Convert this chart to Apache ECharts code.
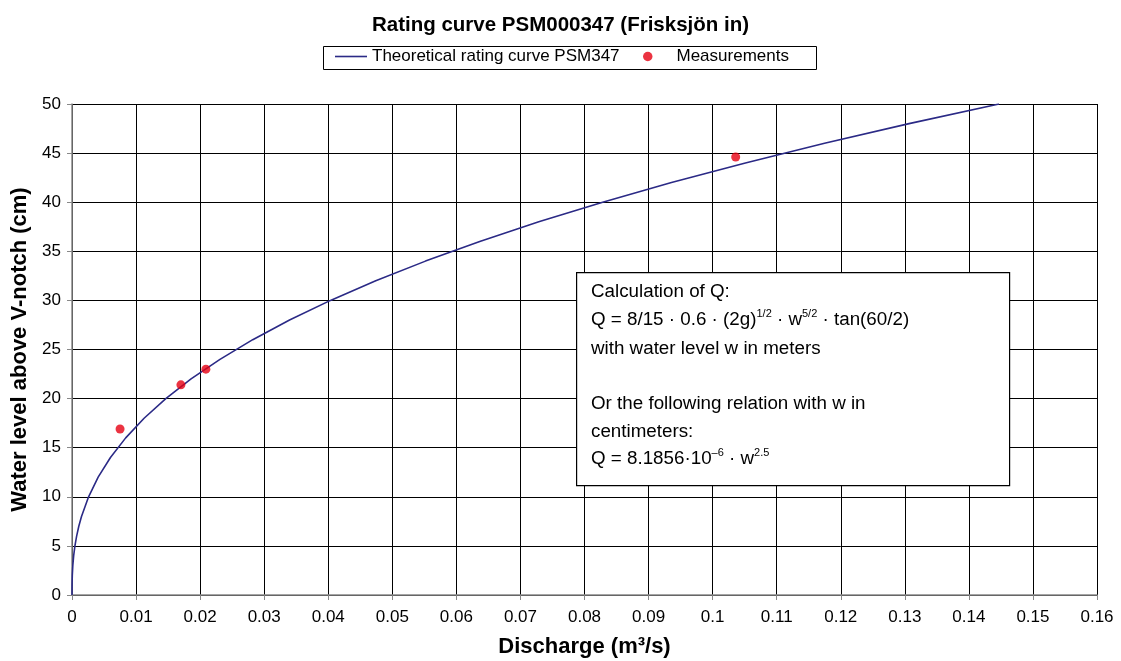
<!DOCTYPE html>
<html>
<head>
<meta charset="utf-8">
<script src="https://cdn.jsdelivr.net/npm/echarts@6/dist/echarts.min.js"></script>
<style>
html,body{margin:0;padding:0;background:#fff;}
#chart{width:1121px;height:661px;}
</style>
</head>
<body>
<div id="chart"></div>
<script>
// Theoretical rating curve: water level (cm) and discharge (m3/s)
const curveLevel = [0, 0.5, 1, 2, 3, 4, 5, 6, 7, 8, 10, 12, 14, 16, 18, 20, 22, 24, 26, 28, 30, 32, 34, 36, 38, 40, 42, 44, 46, 48, 50];
const curveQ = [0, 0.0000015, 0.0000082, 0.000046, 0.000128, 0.000262, 0.000458, 0.000722, 0.001061, 0.001482, 0.002589, 0.004083, 0.006003, 0.008382, 0.011252, 0.014643, 0.018583, 0.023098, 0.028215, 0.033958, 0.040351, 0.047415, 0.055176, 0.063651, 0.072864, 0.082833, 0.093577, 0.105117, 0.117475, 0.130666, 0.144703];
// Measurements
const measQ = [0.0075, 0.0170, 0.0209, 0.1036];
const measLevel = [16.9, 21.4, 23.0, 44.6];
// Axes
const xMin = 0, xMax = 0.16, xStep = 0.01;
const yMin = 0, yMax = 50, yStep = 5;

const FONT = "'Liberation Sans', Arial, sans-serif";
const chart = echarts.init(document.getElementById('chart'), null, {renderer: 'canvas'});

const curveData = curveLevel.map((w, i) => [curveQ[i], w]);
const measData = measLevel.map((w, i) => [measQ[i], w]);

const line = (y, parts) => ({
  type: 'text', left: 591, top: y - 12, z: 101,
  style: {
    rich: {
      n: {fontSize: 18.8, fontFamily: FONT, fill: '#000', lineHeight: 24},
      s: {fontSize: 11, fontFamily: FONT, fill: '#000', padding: [0, 0, 12, 0]}
    },
    text: parts
  }
});

chart.setOption({
  animation: false,
  backgroundColor: '#fff',
  title: {
    text: 'Rating curve PSM000347 (Frisksjön in)',
    left: 'center', top: 10,
    textStyle: {fontFamily: FONT, fontSize: 20.5, fontWeight: 'bold', color: '#000'}
  },
  legend: [
    {
      data: [{name: 'Theoretical rating curve PSM347', icon: 'rect'}],
      left: 335, top: 48, padding: 0,
      itemWidth: 32, itemHeight: 1.6,
      textStyle: {fontFamily: FONT, fontSize: 17, color: '#000'}
    },
    {
      data: [{name: 'Measurements', icon: 'circle'}],
      left: 643, top: 48, padding: 0,
      itemWidth: 9.5, itemHeight: 9.5,
      textStyle: {fontFamily: FONT, fontSize: 17, color: '#000', padding: [0, 0, 0, 19]}
    }
  ],
  grid: {left: 72, right: 24, top: 104, bottom: 66, outerBoundsMode: 'none'},
  xAxis: {
    type: 'value', min: xMin, max: xMax, interval: xStep,
    name: 'Discharge (m³/s)', nameLocation: 'middle', nameGap: 41,
    nameTextStyle: {fontFamily: FONT, fontSize: 22, fontWeight: 'bold', color: '#000'},
    axisLine: {show: true, onZero: false, lineStyle: {color: '#888', width: 1.5}},
    axisTick: {show: true, length: 5, lineStyle: {color: '#888', width: 1}},
    axisLabel: {fontFamily: FONT, fontSize: 17, color: '#000', margin: 14},
    splitLine: {show: true, lineStyle: {color: '#000', width: 1}}
  },
  yAxis: {
    type: 'value', min: yMin, max: yMax, interval: yStep,
    name: 'Water level above V-notch (cm)', nameLocation: 'middle', nameGap: 38,
    nameTextStyle: {fontFamily: FONT, fontSize: 22, fontWeight: 'bold', color: '#000'},
    axisLine: {show: true, onZero: false, lineStyle: {color: '#888', width: 1.5}},
    axisTick: {show: true, length: 5, lineStyle: {color: '#888', width: 1}},
    axisLabel: {fontFamily: FONT, fontSize: 17, color: '#000', margin: 11},
    splitLine: {show: true, lineStyle: {color: '#000', width: 1}}
  },
  series: [
    {
      name: 'Theoretical rating curve PSM347',
      type: 'line', data: curveData, symbol: 'none', smooth: false,
      lineStyle: {color: '#2b2a86', width: 1.6},
      itemStyle: {color: '#2b2a86'},
      z: 3
    },
    {
      name: 'Measurements',
      type: 'scatter', data: measData, symbol: 'circle', symbolSize: 9,
      itemStyle: {color: '#e60012'},
      z: 4
    }
  ],
  graphic: [
    {
      type: 'rect', left: 321, top: 44, z: 0,
      shape: {width: 493, height: 23},
      style: {fill: 'none', stroke: '#000', lineWidth: 1}
    },
    {
      type: 'rect', left: 576, top: 272, z: 100,
      shape: {width: 433, height: 213},
      style: {fill: '#fff', stroke: '#000', lineWidth: 1.2}
    },
    line(294, '{n|Calculation of Q:}'),
    line(320.5, '{n|Q = 8/15 · 0.6 · (2g)}{s|1/2}{n| · w}{s|5/2}{n| · tan(60/2)}'),
    line(351, '{n|with water level w in meters}'),
    line(406, '{n|Or the following relation with w in}'),
    line(434, '{n|centimeters:}'),
    line(459, '{n|Q = 8.1856·10}{s|–6}{n| · w}{s|2.5}')
  ]
});
</script>
</body>
</html>
